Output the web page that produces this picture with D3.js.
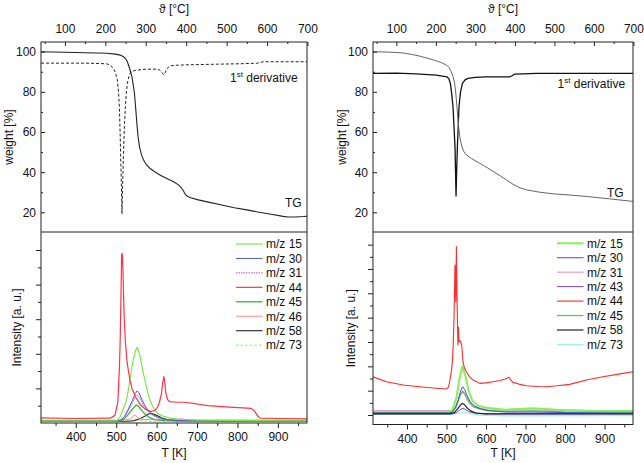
<!DOCTYPE html>
<html><head><meta charset="utf-8">
<script src="https://cdn.jsdelivr.net/npm/d3@7"></script>
<style>body{margin:0;background:#fff}text{font-family:"Liberation Sans",Arial,sans-serif;fill:#111}</style>
</head><body><svg id="c" width="644" height="463"></svg>
<script>
// ---------- tick values ----------
const kelvinMajor = [400,500,600,700,800,900];
const kelvinMinor = [350,450,550,650,750,850,950];
const celsiusMajor = [100,200,300,400,500,600,700];
const celsiusMinor = [50,150,250,350,450,550,650];
const weightMajor = [20,40,60,80,100];
const weightMinor = [30,50,70,90];
const intensityMajorL = [1,2,3,4,5];
const intensityMinorL = [0.5,1.5,2.5,3.5,4.5];
const intensityMajorR = [0,1,2,3,4,5,6,7];
const intensityMinorR = [0.5,1.5,2.5,3.5,4.5,5.5,6.5];

// ---------- upper panels: [°C, weight %] ----------
const tgLeft = [[41,100],[100,99.7],[150,99.5],[203,99.2],[225,98.8],[237,98.3],[245,97.5],[250,96.6],[254,95.3],[257,93.5],[261,91],[265.5,87.7],[269,83.5],[272,79.3],[275,72],[278,64.3],[281,57.5],[284.5,52.7],[289,49],[294.5,46],[302,43.6],[311,41.8],[322,40.2],[336,38.5],[352,36.9],[369,35.2],[380,33.8],[386,32.7],[391,31.4],[395,30],[398.5,28.8],[404,27.9],[411,27.3],[430,26.2],[452,25.2],[485,23.8],[519,22.3],[550,21.2],[577,20.2],[610,19],[640,18],[652,17.7],[670,17.7],[690,17.9],[700,18.1]];
const derivLeft = [[41,94.3],[150,94.3],[203,94],[212,93.3],[219.7,91.8],[225,89.5],[229.7,86],[232.5,80],[234.7,72.7],[236.5,60],[238,47.7],[239.8,33],[241.2,19.3],[242.8,33],[244.6,47.7],[247,62],[249.6,72.7],[252,79.5],[254.6,84.3],[258,87.5],[261,89.3],[267,90.2],[273.8,90.7],[290,91.1],[303,91.3],[328,91.3],[334,90.9],[338,90.2],[341,89.3],[344.4,88.5],[347,89.2],[351,91],[356,92.3],[361,93],[380,93.3],[411,93.5],[480,93.8],[535,94],[577,94.3],[585,94.7],[590,95],[650,95],[700,95]];
const tgRight = [[41,100],[80,99.8],[116.7,99.4],[140,98.6],[159,97.8],[180,96.7],[201.3,95.4],[215,94.5],[226.6,93.3],[233,92.2],[239,90],[243.5,87.5],[247.6,84.2],[250.5,79],[253.4,72.5],[255.5,67],[257.7,62.6],[260.5,57.5],[264.6,53.5],[270,50.5],[277,48.6],[290,46.8],[311,44.4],[330,42.2],[353,39.4],[375,36.6],[395,34],[410,32.4],[429,31.2],[460,30.1],[496.5,29.2],[540,28.6],[581,27.9],[640,26.7],[700,25.4]];
const derivRight = [[41,89.2],[100,89.3],[150,89],[201,88.3],[228,87.5],[233,86.5],[236.7,84.2],[240,79],[243.3,72.6],[246,62],[248.4,52.7],[249.8,40],[251,27.9],[252.5,40],[254.4,52.7],[256.5,63],[258.5,72.6],[262,79.5],[267,84.2],[274,86],[281,86.7],[300,87.2],[328,87.5],[387,87.5],[393,88],[399.5,88.8],[420,89],[454,89.2],[700,89.2]];

// ---------- lower left panel: [K, intensity] ----------
const ms15L = [[314,0.06],[500,0.06],[505,0.1],[510,0.18],[514,0.3],[518,0.42],[523,0.55],[528,0.81],[532,1.1],[537,1.48],[541,1.75],[545,1.97],[549,2.12],[552,2.18],[555,2.1],[560,1.87],[566,1.5],[572,1.19],[578,0.88],[585,0.62],[593,0.42],[602,0.28],[615,0.2],[635,0.14],[660,0.1],[700,0.08],[972,0.06]];
const ms30L = [[314,0.06],[505,0.06],[512,0.1],[520,0.18],[530,0.4],[540,0.65],[547,0.85],[552,0.93],[556,0.88],[562,0.72],[570,0.52],[578,0.38],[587,0.27],[600,0.18],[620,0.11],[650,0.07],[972,0.06]];
const ms31L = [[314,0.05],[505,0.05],[512,0.08],[520,0.16],[530,0.35],[540,0.58],[547,0.75],[552,0.81],[556,0.77],[562,0.64],[570,0.47],[578,0.35],[587,0.25],[600,0.16],[620,0.1],[650,0.06],[972,0.05]];
const ms44L = [[314,0.15],[400,0.13],[485,0.14],[497,0.22],[504,0.6],[508,1.6],[510,2.45],[512,3.8],[513.5,4.86],[515,4.9],[516.5,4.5],[518,3.8],[520,3.0],[523,2.3],[527,1.75],[533,1.3],[539,1.0],[548,0.75],[560,0.52],[572,0.4],[585,0.33],[595,0.36],[602,0.45],[607,0.6],[612,0.85],[615,1.15],[618,1.34],[620,1.2],[623,0.85],[627,0.68],[632,0.62],[650,0.6],[668,0.6],[700,0.55],[726,0.5],[780,0.46],[834,0.42],[842,0.35],[850,0.2],[856,0.14],[900,0.13],[972,0.12]];
const ms45L = [[314,0.05],[505,0.05],[512,0.07],[520,0.12],[530,0.25],[540,0.4],[550,0.52],[556,0.47],[564,0.35],[572,0.25],[582,0.16],[595,0.1],[620,0.07],[972,0.05]];
const ms46L = [[314,0.08],[520,0.08],[535,0.12],[545,0.23],[550,0.2],[556,0.12],[570,0.1],[640,0.09],[660,0.12],[680,0.09],[972,0.08]];
const ms58L = [[314,0.05],[530,0.05],[545,0.07],[560,0.13],[572,0.2],[580,0.26],[586,0.28],[592,0.26],[600,0.22],[612,0.15],[625,0.1],[645,0.07],[972,0.05]];
const ms73L = [[314,0.04],[520,0.04],[535,0.07],[548,0.1],[556,0.09],[570,0.06],[590,0.04],[972,0.04]];

// ---------- lower right panel: [K, intensity] ----------
const ms15R = [[314,0.12],[500,0.12],[515,0.2],[525,0.7],[533,1.5],[540,1.99],[548,1.6],[556,1.0],[565,0.6],[580,0.38],[600,0.3],[650,0.22],[720,0.28],[780,0.22],[850,0.18],[972,0.16]];
const ms30R = [[314,0.08],[505,0.08],[515,0.12],[523,0.3],[530,0.65],[536,1.0],[541,1.16],[546,1.05],[552,0.8],[560,0.55],[570,0.38],[585,0.26],[605,0.18],[650,0.12],[720,0.12],[800,0.1],[972,0.08]];
const ms31R = [[314,0.18],[505,0.18],[515,0.2],[523,0.35],[530,0.6],[536,0.88],[541,1.0],[546,0.9],[552,0.7],[560,0.5],[570,0.36],[585,0.28],[605,0.22],[700,0.2],[972,0.18]];
const ms43R = [[314,0.05],[515,0.05],[525,0.1],[533,0.2],[540,0.27],[546,0.24],[555,0.15],[570,0.08],[600,0.05],[972,0.05]];
const ms44R = [[314,1.57],[348,1.37],[390,1.23],[432,1.16],[474,1.1],[501,1.07],[505,1.15],[508,1.37],[512,1.75],[515,2.19],[517,2.9],[519,3.97],[520.5,5.2],[521.5,6.16],[522.5,5.3],[523.5,4.66],[524.3,5.8],[525,6.92],[525.8,6.0],[526.6,4.93],[527.8,3.8],[529,2.88],[530.3,3.6],[531.6,3.01],[535,3.04],[538.5,2.88],[541.8,2.19],[545,1.95],[550,1.78],[558,1.58],[567,1.44],[584,1.3],[600,1.32],[617,1.37],[635,1.42],[647,1.47],[655,1.53],[658,1.55],[662,1.45],[668,1.34],[685,1.26],[702,1.2],[730,1.17],[753,1.16],[780,1.2],[812,1.26],[854,1.44],[896,1.57],[947,1.71],[972,1.78]];
const ms45R = [[314,0.1],[505,0.1],[515,0.13],[523,0.3],[530,0.6],[536,0.85],[541,0.96],[546,0.86],[552,0.65],[560,0.45],[570,0.32],[585,0.24],[605,0.18],[650,0.15],[720,0.17],[800,0.13],[972,0.12]];
const ms58R = [[314,0.05],[510,0.05],[520,0.1],[528,0.25],[535,0.4],[540,0.48],[546,0.42],[553,0.28],[562,0.16],[575,0.08],[600,0.05],[972,0.05]];
const ms73R = [[314,0.04],[515,0.04],[530,0.07],[542,0.12],[555,0.07],[580,0.0],[650,-0.03],[972,-0.02]];

const labelsL = ["m/z 15","m/z 30","m/z 31","m/z 44","m/z 45","m/z 46","m/z 58","m/z 73"];
const labelsR = ["m/z 15","m/z 30","m/z 31","m/z 43","m/z 44","m/z 45","m/z 58","m/z 73"];

const svg = d3.select("#c");
const K0 = 273.15;

const panels = [
  {x0:41,x1:307,top:42,mid:232,bot:423,lowDom:[0,5.52],tg:tgLeft,der:derivLeft,
   tgStyle:{c:"#222",w:1.1,d:null},derStyle:{c:"#222",w:1,d:"3,2"},
   majL:intensityMajorL,minL:intensityMinorL,
   ms:[
    {d:ms73L,c:"#8ef58e",w:1,dash:"3,1.5",lab:7},
    {d:ms58L,c:"#333",w:1.2,dash:null,lab:6},
    {d:ms46L,c:"#ff8a8a",w:1,dash:null,lab:5},
    {d:ms45L,c:"#3cb043",w:1.3,dash:null,lab:4},
    {d:ms31L,c:"#c04ac8",w:1,dash:"1.5,1",lab:2},
    {d:ms30L,c:"#4a5ad0",w:1,dash:null,lab:1},
    {d:ms15L,c:"#74e63c",w:1.1,dash:null,lab:0},
    {d:ms44L,c:"#ff3347",w:1.2,dash:null,lab:3}],
   labels:labelsL,legX:236,legY:244,legDy:14.45,
   derLab:[230,82],tgLab:[285,207],wLabX:9,iLabX:17},
  {x0:373,x1:633,top:42,mid:232,bot:424.5,lowDom:[-0.39,7.52],tg:tgRight,der:derivRight,
   tgStyle:{c:"#666",w:1,d:null},derStyle:{c:"#111",w:1.3,d:null},
   majL:intensityMajorR,minL:intensityMinorR,
   ms:[
    {d:ms73R,c:"#9df5de",w:1.3,dash:null,lab:7},
    {d:ms31R,c:"#f2a3c0",w:1.3,dash:null,lab:2},
    {d:ms15R,c:"#88f055",w:2,dash:null,lab:0},
    {d:ms45R,c:"#5cc45c",w:1.3,dash:null,lab:5},
    {d:ms30R,c:"#3f51e0",w:1,dash:null,lab:1},
    {d:ms43R,c:"#7a3db0",w:1,dash:null,lab:3},
    {d:ms58R,c:"#222",w:1.2,dash:null,lab:6},
    {d:ms44R,c:"#ff2a2a",w:1.1,dash:null,lab:4}],
   labels:labelsR,legX:557,legY:243.3,legDy:14.45,
   derLab:[557.5,87.5],tgLab:[607,197],wLabX:342,iLabX:350.5}
];

panels.forEach(p=>{
  const xK = d3.scaleLinear().domain([314,972]).range([p.x0,p.x1]);
  const xC = d3.scaleLinear().domain([314-K0,972-K0]).range([p.x0,p.x1]);
  const yW = d3.scaleLinear().domain([10.2,104.83]).range([p.mid,p.top]);
  const yI = d3.scaleLinear().domain(p.lowDom).range([p.bot,p.mid]);
  const g = svg.append("g");
  const clipId = "clip"+p.x0;
  svg.append("clipPath").attr("id",clipId).append("rect")
     .attr("x",p.x0).attr("y",p.top).attr("width",p.x1-p.x0).attr("height",p.bot-p.top);
  const plot = g.append("g").attr("clip-path",`url(#${clipId})`);

  const lineW = d3.line().x(d=>xC(d[0])).y(d=>yW(d[1]));
  plot.append("path").datum(p.der).attr("d",lineW).attr("fill","none")
     .attr("stroke",p.derStyle.c).attr("stroke-width",p.derStyle.w).attr("stroke-dasharray",p.derStyle.d);
  plot.append("path").datum(p.tg).attr("d",lineW).attr("fill","none")
     .attr("stroke",p.tgStyle.c).attr("stroke-width",p.tgStyle.w);

  const lineI = d3.line().x(d=>xK(d[0])).y(d=>yI(d[1]));
  p.ms.forEach(s=>{
    plot.append("path").datum(s.d).attr("d",lineI).attr("fill","none")
      .attr("stroke",s.c).attr("stroke-width",s.w).attr("stroke-dasharray",s.dash)
      .attr("stroke-linejoin","round");
  });

  const axStyle = sel=>{sel.select(".domain").remove();sel.selectAll("line").attr("stroke","#222");
    sel.selectAll("text").attr("font-size",12).attr("font-family",'"Liberation Sans",Arial,sans-serif').attr("fill","#111");};
  g.append("g").attr("transform",`translate(0,${p.top})`)
    .call(d3.axisTop(xC).tickValues(celsiusMajor).tickSize(-4).tickPadding(9).tickFormat(d3.format("d"))).call(axStyle);
  g.append("g").attr("transform",`translate(0,${p.top})`)
    .call(d3.axisTop(xC).tickValues(celsiusMinor).tickSize(-2).tickFormat("")).call(axStyle);
  g.append("g").attr("transform",`translate(${p.x0},0)`)
    .call(d3.axisLeft(yW).tickValues(weightMajor).tickSize(-4).tickPadding(5).tickFormat(d3.format("d"))).call(axStyle);
  g.append("g").attr("transform",`translate(${p.x0},0)`)
    .call(d3.axisLeft(yW).tickValues(weightMinor).tickSize(-2).tickFormat("")).call(axStyle);
  g.append("g").attr("transform",`translate(0,${p.bot})`)
    .call(d3.axisBottom(xK).tickValues(kelvinMajor).tickSize(5).tickPadding(4.5).tickFormat(d3.format("d"))).call(axStyle);
  g.append("g").attr("transform",`translate(0,${p.bot})`)
    .call(d3.axisBottom(xK).tickValues(kelvinMinor).tickSize(3).tickFormat("")).call(axStyle);
  g.append("g").attr("transform",`translate(${p.x0},0)`)
    .call(d3.axisLeft(yI).tickValues(p.majL).tickSize(5).tickFormat("")).call(axStyle);
  g.append("g").attr("transform",`translate(${p.x0},0)`)
    .call(d3.axisLeft(yI).tickValues(p.minL).tickSize(3).tickFormat("")).call(axStyle);

  g.append("rect").attr("x",p.x0).attr("y",p.top).attr("width",p.x1-p.x0).attr("height",p.bot-p.top)
    .attr("fill","none").attr("stroke","#222").attr("stroke-width",1);
  g.append("line").attr("x1",p.x0).attr("x2",p.x1).attr("y1",p.mid).attr("y2",p.mid)
    .attr("stroke","#222").attr("stroke-width",1);

  const cx = (p.x0+p.x1)/2;
  g.append("text").attr("x",cx).attr("y",13).attr("text-anchor","middle").attr("font-size",12).text("ϑ [°C]");
  g.append("text").attr("x",cx).attr("y",457).attr("text-anchor","middle").attr("font-size",12).text("T [K]");
  g.append("text").attr("transform",`translate(${p.wLabX},${(p.top+p.mid)/2}) rotate(-90)`)
    .attr("text-anchor","middle").attr("dominant-baseline","central").attr("font-size",12).text("weight [%]");
  g.append("text").attr("transform",`translate(${p.iLabX},${(p.mid+p.bot)/2}) rotate(-90)`)
    .attr("text-anchor","middle").attr("dominant-baseline","central").attr("font-size",12).text("Intensity [a. u.]");

  const dt = g.append("text").attr("x",p.derLab[0]).attr("y",p.derLab[1]).attr("font-size",12);
  dt.append("tspan").text("1");
  dt.append("tspan").attr("dy",-5).attr("font-size",8).text("st");
  dt.append("tspan").attr("dy",5).text(" derivative");
  g.append("text").attr("x",p.tgLab[0]).attr("y",p.tgLab[1]).attr("font-size",12).text("TG");

  p.ms.forEach(s=>{
    const yy = p.legY + s.lab*p.legDy;
    g.append("line").attr("x1",p.legX).attr("x2",p.legX+26.5).attr("y1",yy).attr("y2",yy)
      .attr("stroke",s.c).attr("stroke-width",s.w).attr("stroke-dasharray",s.dash);
    g.append("text").attr("x",p.legX+30).attr("y",yy+4.3).attr("font-size",12).text(p.labels[s.lab]);
  });
});
</script></body></html>
